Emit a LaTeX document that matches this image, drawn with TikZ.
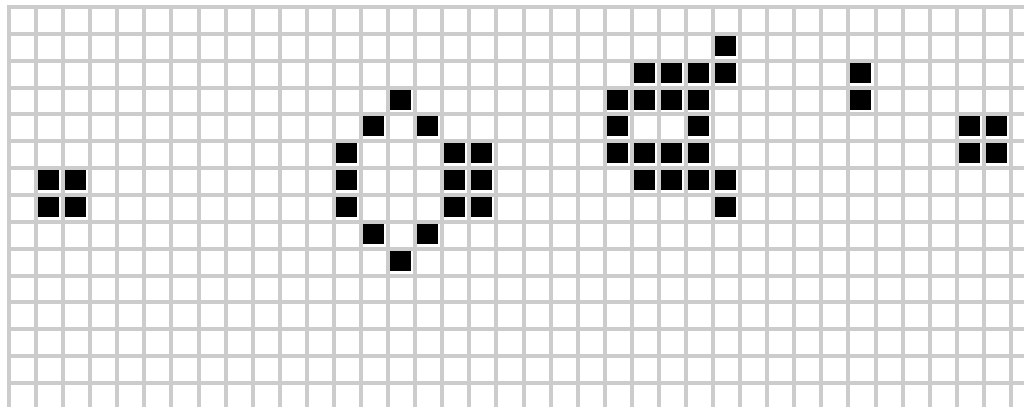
\documentclass[tikz,border=0pt]{standalone}
\definecolor{gridgray}{HTML}{CCCCCC}
\tikzset{
  gridline/.style={draw=gridgray,line width=4pt},
  livecell/.style={fill=black}
}
\begin{document}
\begin{tikzpicture}[x=1pt,y=-1pt]
\useasboundingbox (0,0) rectangle (1024,407);
\fill[white] (0,0) rectangle (1024,407);
% vertical grid lines
\foreach \k in {0,...,37}{
  \draw[gridline] ({9+27.08*\k},5) -- ({9+27.08*\k},407);
}
% horizontal grid lines
\foreach \j in {0,...,14}{
  \draw[gridline] (7,{7+26.86*\j}) -- (1024,{7+26.86*\j});
}
% live cells
\foreach \c/\r in {1/6,2/6,1/7,2/7,
  14/3,13/4,15/4,12/5,16/5,17/5,12/6,16/6,17/6,12/7,16/7,17/7,13/8,15/8,14/9,
  26/1,23/2,24/2,25/2,26/2,22/3,23/3,24/3,25/3,22/4,25/4,22/5,23/5,24/5,25/5,
  23/6,24/6,25/6,26/6,26/7,
  31/2,31/3,35/4,36/4,35/5,36/5}{
  \fill[livecell] ({9+27.08*\c+2},{7+26.86*\r+2}) rectangle ++(21,20);
}
\end{tikzpicture}
\end{document}
